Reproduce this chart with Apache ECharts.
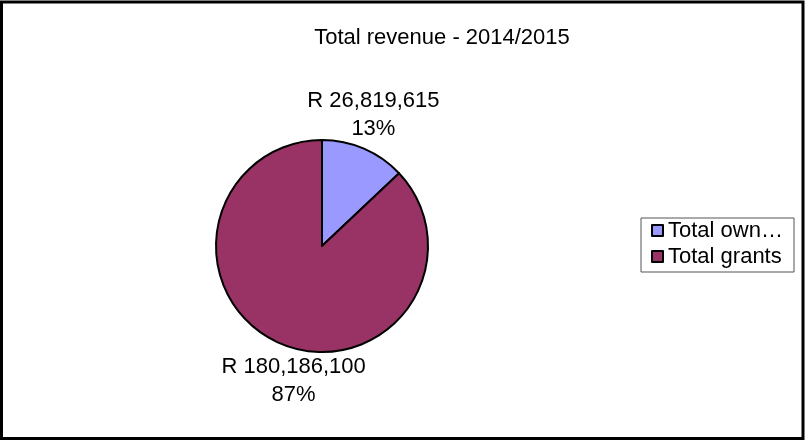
<!DOCTYPE html>
<html>
<head>
<meta charset="utf-8">
<script src="https://cdn.jsdelivr.net/npm/echarts@6/dist/echarts.min.js"></script>
<style>
  html, body { margin: 0; padding: 0; background: #fff; }
  #chart { width: 805px; height: 441px; }
</style>
</head>
<body>
<div id="chart"></div>
<script>
// Revenue split for the year
const titleText = 'Total revenue - 2014/2015';
const categories = ['Total own revenue', 'Total grants'];
const revenueValues = [26819615, 180186100];
const sliceColors = ['#9999FF', '#993366'];

// Fine nudges for the two outside labels (px)
const labelNudgeX = [-11, 34];
const labelNudgeY = [2, 2];

const FONT = 'Liberation Sans, Arial, sans-serif';

function formatRand(v) {
  return 'R ' + v.toString().replace(/\B(?=(\d{3})+(?!\d))/g, ',');
}

const chart = echarts.init(document.getElementById('chart'), null, { renderer: 'canvas' });

const option = {
  backgroundColor: '#ffffff',
  animation: false,
  title: {
    text: titleText,
    left: 442,
    top: 27,
    padding: 0,
    textAlign: 'center',
    textStyle: { fontFamily: FONT, fontSize: 22, fontWeight: 'normal', color: '#000' }
  },
  legend: {
    orient: 'vertical',
    left: 641,
    top: 218,
    padding: [1.5, 5, 4.5, 10],
    itemGap: 4,
    itemWidth: 11,
    itemHeight: 11,
    icon: 'rect',
    borderColor: '#555',
    borderWidth: 1,
    itemStyle: { borderColor: '#000', borderWidth: 2 },
    textStyle: {
      fontFamily: FONT, fontSize: 22, lineHeight: 22, color: '#000',
      width: 121, overflow: 'truncate', ellipsis: '…'
    },
    data: categories
  },
  series: [{
    type: 'pie',
    center: [322, 246],
    radius: 106,
    startAngle: 90,
    clockwise: true,
    avoidLabelOverlap: false,
    itemStyle: { borderColor: '#000', borderWidth: 2 },
    emphasis: { disabled: true },
    label: {
      show: true,
      position: 'outside',
      fontFamily: FONT,
      fontSize: 22,
      lineHeight: 28,
      color: '#000',
      formatter: p => formatRand(p.value) + '\n' + Math.round(p.percent) + '%'
    },
    labelLine: { show: false, length: 39, length2: 0 },
    labelLayout: p => ({
      align: 'center',
      verticalAlign: 'middle',
      dx: labelNudgeX[p.dataIndex],
      dy: labelNudgeY[p.dataIndex]
    }),
    data: categories.map((name, i) => ({
      name: name,
      value: revenueValues[i],
      itemStyle: { color: sliceColors[i] }
    }))
  }],
  graphic: [{
    type: 'rect',
    shape: { x: 1.5, y: 2, width: 801.5, height: 436.5 },
    style: { fill: 'none', stroke: '#000', lineWidth: 3 },
    silent: true,
    z: 100
  }]
};

chart.setOption(option);
</script>
</body>
</html>
